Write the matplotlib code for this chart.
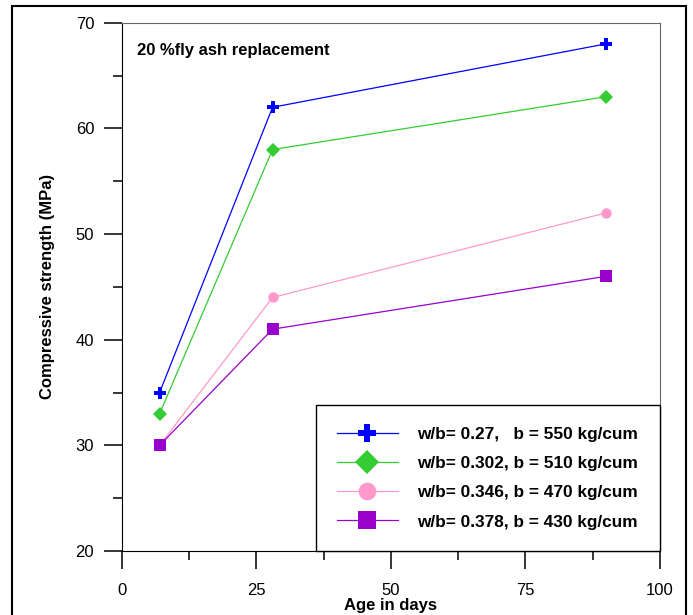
import matplotlib.pyplot as plt
from matplotlib.patches import Rectangle
from matplotlib.ticker import MultipleLocator

plt.rcParams['font.family'] = ['Liberation Sans', 'DejaVu Sans']

age = [7, 28, 90]
s1 = [35, 62, 68]
s2 = [33, 58, 63]
s3 = [30, 44, 52]
s4 = [30, 41, 46]
labels = ["w/b= 0.27,   b = 550 kg/cum",
          "w/b= 0.302, b = 510 kg/cum",
          "w/b= 0.346, b = 470 kg/cum",
          "w/b= 0.378, b = 430 kg/cum"]
colors = ["#0000ff", "#33cc33", "#ff99cc", "#9900cc"]
markers = ["P", "D", "o", "s"]
sizes = [8, 7, 7.5, 8]

fig = plt.figure(figsize=(6.93, 6.15), dpi=100)
ax = fig.add_axes([0.176, 0.104, 0.776, 0.859])

for y, c, mk, ms, lab in zip([s1, s2, s3, s4], colors, markers, sizes, labels):
    ax.plot(age, y, color=c, marker=mk, markersize=ms, linewidth=0.9,
            markeredgewidth=0, label=lab)

ax.set_xlim(0, 100)
ax.set_ylim(20, 70)
ax.xaxis.set_major_locator(MultipleLocator(25))
ax.xaxis.set_minor_locator(MultipleLocator(12.5))
ax.yaxis.set_major_locator(MultipleLocator(10))
ax.yaxis.set_minor_locator(MultipleLocator(5))
ax.tick_params(which='major', direction='out', length=13, width=1.1,
               labelsize=12)
ax.tick_params(which='minor', direction='out', length=6.5, width=1.1)
ax.tick_params(axis='x', which='major', pad=10)
ax.tick_params(axis='y', which='major', pad=7)
for side in ['top', 'right']:
    ax.spines[side].set_color('#666666')
for side in ['left', 'bottom']:
    ax.spines[side].set_color('black')

ax.set_xlabel("Age in days", fontsize=12, fontweight='bold', labelpad=0)
ax.set_ylabel("Compressive strength (MPa)", fontsize=12, fontweight='bold',
              labelpad=15)

ax.text(0.028, 0.948, "20 %fly ash replacement", transform=ax.transAxes,
        fontsize=12, fontweight='bold', va='center', ha='left')

leg = ax.legend(loc='lower right', bbox_to_anchor=(1, 0), borderaxespad=0,
                fancybox=False, edgecolor='black', framealpha=1,
                prop={'weight': 'bold', 'size': 12.4}, markerscale=1.7,
                handlelength=3.5, handletextpad=1.15, labelspacing=0.82,
                borderpad=1.25)
leg.get_frame().set_linewidth(1.0)

fig.patches.append(Rectangle((0.0173, -0.05), 0.9727, 1.04,
                             transform=fig.transFigure, fill=False,
                             edgecolor='black', linewidth=1.5))

fig.savefig("out.png", dpi=100)
